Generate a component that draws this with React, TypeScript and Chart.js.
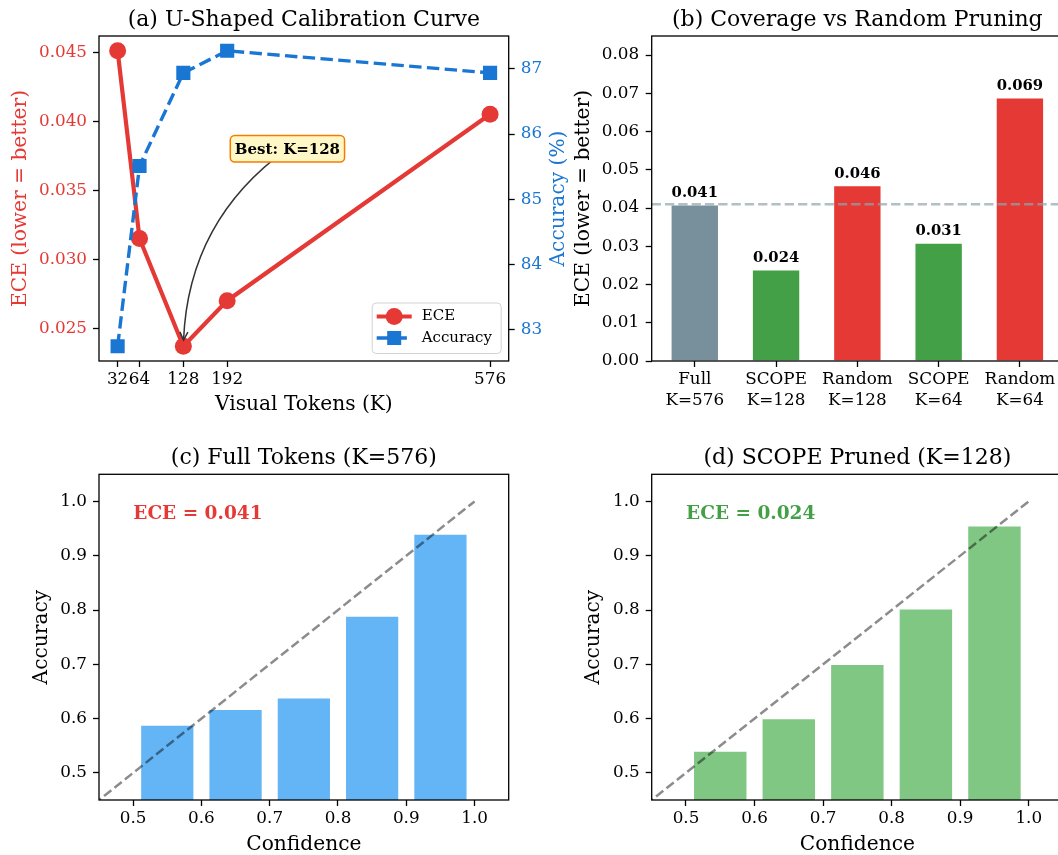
import { useEffect, useRef } from 'react';
import { Chart, registerables } from 'chart.js';

Chart.register(...registerables);

const FONT = "'DejaVu Serif', serif";
Chart.defaults.font.family = FONT;
Chart.defaults.color = '#000';

// ---------------- data ----------------
// (a) U-shaped calibration curve
const tokens = [32, 64, 128, 192, 576];
const eceByTokens = [0.0451, 0.0315, 0.0237, 0.027, 0.0405];
const accByTokens = [82.74, 85.51, 86.94, 87.28, 86.94];
const eceTicks = [0.025, 0.03, 0.035, 0.04, 0.045];
const accTicks = [83, 84, 85, 86, 87];
const bestK = 128;
const bestLabel = 'Best: K=128';
const bestTextX = 280;
const bestTextY = 0.038;

// (b) coverage vs random pruning
const methodLabels = [
  ['Full', 'K=576'],
  ['SCOPE', 'K=128'],
  ['Random', 'K=128'],
  ['SCOPE', 'K=64'],
  ['Random', 'K=64'],
];
const methodEce = [0.041, 0.024, 0.046, 0.031, 0.069];
const methodColors = ['#78909C', '#43A047', '#E53935', '#43A047', '#E53935'];
const fullRef = 0.041;
const barYTicks = [0, 0.01, 0.02, 0.03, 0.04, 0.05, 0.06, 0.07, 0.08];
const barYMax = 0.085;

// (c), (d) reliability diagrams
const binCenters = [0.55, 0.65, 0.75, 0.85, 0.95];
const accFull = [0.589, 0.618, 0.639, 0.79, 0.941];
const accScope = [0.541, 0.601, 0.701, 0.803, 0.956];
const relTicks = [0.5, 0.6, 0.7, 0.8, 0.9, 1.0];
const eceFull = 0.041;
const eceScope = 0.024;

// ---------------- style ----------------
const TICK = 16.8;
const LABEL = 20.2;
const TITLE = 22;
const SMALL = 15;
const RED = '#E53935';
const BLUE = '#1976D2';
const GREEN = '#43A047';

function ext(v: number[]) {
  const lo = Math.min(...v);
  const hi = Math.max(...v);
  const m = (hi - lo) * 0.05;
  return [lo - m, hi + m];
}

const tickGrid = {
  drawOnChartArea: false,
  drawTicks: true,
  tickLength: 6,
  tickColor: '#000',
  tickWidth: 1.3,
  offset: false,
};

const fixTicks = (vals: number[]) => (s: any) => {
  s.ticks = vals.map((v) => ({ value: v }));
};
const fitW = (w: number) => (s: any) => {
  s.width = w;
};
const fitH = (h: number) => (s: any) => {
  s.height = h;
};

function framePlugin(title: string) {
  return {
    id: 'frame',
    afterDraw(chart: any) {
      const { ctx, chartArea: a } = chart;
      ctx.save();
      ctx.strokeStyle = '#000';
      ctx.lineWidth = 1.3;
      ctx.strokeRect(a.left, a.top, a.right - a.left, a.bottom - a.top);
      ctx.fillStyle = '#000';
      ctx.font = `${TITLE}px ${FONT}`;
      ctx.textAlign = 'center';
      ctx.textBaseline = 'alphabetic';
      ctx.fillText(title, (a.left + a.right) / 2, a.top - 10.5);
      ctx.restore();
    },
  };
}

// ---------------- panel (a) ----------------
const rightTitleA = {
  id: 'rightTitleA',
  afterDraw(chart: any) {
    const { ctx, chartArea: a } = chart;
    ctx.save();
    ctx.translate(558.7, (a.top + a.bottom) / 2);
    ctx.rotate(-Math.PI / 2);
    ctx.fillStyle = BLUE;
    ctx.font = `${LABEL}px ${FONT}`;
    ctx.textAlign = 'center';
    ctx.textBaseline = 'middle';
    ctx.fillText('Accuracy (%)', 0, 0);
    ctx.restore();
  },
};

const legendA = {
  id: 'legendA',
  afterDraw(chart: any) {
    const { ctx, chartArea: a } = chart;
    const w = 129;
    const h = 50.5;
    const x0 = a.right - 7.5 - w;
    const y0 = a.bottom - 7.5 - h;
    ctx.save();
    ctx.beginPath();
    ctx.roundRect(x0, y0, w, h, 4);
    ctx.fillStyle = 'rgba(255,255,255,0.8)';
    ctx.fill();
    ctx.strokeStyle = '#d3d3d3';
    ctx.lineWidth = 1;
    ctx.stroke();
    const hx0 = x0 + 4.5;
    const hx1 = x0 + 39.5;
    const hm = (hx0 + hx1) / 2;
    const tx = x0 + 49.5;
    const r1 = y0 + 13.5;
    const r2 = y0 + 35;
    const ds = chart.data.datasets;
    // ECE entry
    ctx.strokeStyle = RED;
    ctx.lineWidth = 4.2;
    ctx.beginPath();
    ctx.moveTo(hx0, r1);
    ctx.lineTo(hx1, r1);
    ctx.stroke();
    ctx.fillStyle = RED;
    ctx.beginPath();
    ctx.arc(hm, r1, 8.5, 0, Math.PI * 2);
    ctx.fill();
    // Accuracy entry
    ctx.strokeStyle = BLUE;
    ctx.lineWidth = 3.4;
    ctx.setLineDash([12.4, 5.4]);
    ctx.beginPath();
    ctx.moveTo(hx0, r2);
    ctx.lineTo(hx1, r2);
    ctx.stroke();
    ctx.setLineDash([]);
    ctx.fillStyle = BLUE;
    ctx.fillRect(hm - 7, r2 - 7, 14, 14);
    ctx.fillStyle = '#000';
    ctx.font = `${SMALL}px ${FONT}`;
    ctx.textAlign = 'left';
    ctx.textBaseline = 'middle';
    ctx.fillText(ds[0].label, tx, r1);
    ctx.fillText(ds[1].label, tx, r2);
    ctx.restore();
  },
};

const annotA = {
  id: 'annotA',
  afterDraw(chart: any) {
    const { ctx } = chart;
    const xs = chart.scales.x;
    const ys = chart.scales.y;
    const p0x = xs.getPixelForValue(bestTextX);
    const p0y = ys.getPixelForValue(bestTextY);
    const p2x = xs.getPixelForValue(bestK);
    const p2y = ys.getPixelForValue(eceByTokens[tokens.indexOf(bestK)]);
    const rad = 0.25;
    const mx = (p0x + p2x) / 2;
    const my = (p0y + p2y) / 2;
    const dx = p2x - p0x;
    const dyDisp = -(p2y - p0y);
    const cx = mx + rad * dyDisp;
    const cy = my + rad * dx;
    const t = 0.975;
    const q1x = p0x + t * (cx - p0x);
    const q1y = p0y + t * (cy - p0y);
    const bx = (1 - t) * (1 - t) * p0x + 2 * t * (1 - t) * cx + t * t * p2x;
    const by = (1 - t) * (1 - t) * p0y + 2 * t * (1 - t) * cy + t * t * p2y;
    const tgx = 2 * (1 - t) * (cx - p0x) + 2 * t * (p2x - cx);
    const tgy = 2 * (1 - t) * (cy - p0y) + 2 * t * (p2y - cy);
    const tl = Math.hypot(tgx, tgy);
    const ux = tgx / tl;
    const uy = tgy / tl;
    ctx.save();
    ctx.strokeStyle = '#333';
    ctx.lineWidth = 1.5;
    ctx.beginPath();
    ctx.moveTo(p0x, p0y);
    ctx.quadraticCurveTo(q1x, q1y, bx, by);
    ctx.stroke();
    const hl = 8;
    const hw = 4;
    ctx.beginPath();
    ctx.moveTo(bx - ux * hl - uy * hw, by - uy * hl + ux * hw);
    ctx.lineTo(bx, by);
    ctx.lineTo(bx - ux * hl + uy * hw, by - uy * hl - ux * hw);
    ctx.stroke();
    // box
    ctx.font = `bold ${SMALL}px ${FONT}`;
    const tw = ctx.measureText(bestLabel).width;
    const bw = tw + 9;
    const bh = 26.5;
    ctx.beginPath();
    ctx.roundRect(p0x - bw / 2, p0y - bh / 2, bw, bh, 4.5);
    ctx.fillStyle = '#FFF8C6';
    ctx.fill();
    ctx.strokeStyle = '#F57C00';
    ctx.lineWidth = 1.5;
    ctx.stroke();
    ctx.fillStyle = '#000';
    ctx.textAlign = 'center';
    ctx.textBaseline = 'middle';
    ctx.fillText(bestLabel, p0x, p0y + 1);
    ctx.restore();
  },
};

function configA(): any {
  const [xMin, xMax] = ext(tokens);
  const [eMin, eMax] = ext(eceByTokens);
  const [aMin, aMax] = ext(accByTokens);
  return {
    type: 'line',
    data: {
      datasets: [
        {
          label: 'ECE',
          data: tokens.map((x, i) => ({ x, y: eceByTokens[i] })),
          yAxisID: 'y',
          borderColor: RED,
          backgroundColor: RED,
          borderWidth: 4.2,
          pointStyle: 'circle',
          pointRadius: 8.5,
          pointBorderWidth: 0,
          order: 2,
        },
        {
          label: 'Accuracy',
          data: tokens.map((x, i) => ({ x, y: accByTokens[i] })),
          yAxisID: 'y1',
          borderColor: BLUE,
          backgroundColor: BLUE,
          borderWidth: 3.4,
          borderDash: [12.4, 5.4],
          pointStyle: 'rect',
          pointRadius: 10,
          pointBorderWidth: 0,
          order: 1,
        },
      ],
    },
    options: {
      animation: false,
      responsive: false,
      events: [],
      layout: { padding: { top: 36, left: 0, right: 0, bottom: 0 } },
      plugins: { legend: { display: false }, tooltip: { enabled: false } },
      scales: {
        x: {
          type: 'linear',
          min: xMin,
          max: xMax,
          afterBuildTicks: fixTicks(tokens),
          afterFit: fitH(59),
          ticks: {
            autoSkip: false,
            maxRotation: 0,
            minRotation: 0,
            padding: 3,
            font: { size: TICK },
            color: '#000',
            callback: (v: number) => String(v),
          },
          grid: tickGrid,
          border: { display: false },
          title: {
            display: true,
            text: 'Visual Tokens (K)',
            font: { size: LABEL },
            color: '#000',
            padding: { top: 0, bottom: 3 },
          },
        },
        y: {
          type: 'linear',
          position: 'left',
          min: eMin,
          max: eMax,
          afterBuildTicks: fixTicks(eceTicks),
          afterFit: fitW(99),
          ticks: {
            padding: 6,
            font: { size: TICK },
            color: RED,
            callback: (v: number) => v.toFixed(3),
          },
          grid: tickGrid,
          border: { display: false },
          title: {
            display: true,
            text: 'ECE (lower = better)',
            font: { size: LABEL },
            color: RED,
            padding: { top: 8.2, bottom: 0 },
          },
        },
        y1: {
          type: 'linear',
          position: 'right',
          min: aMin,
          max: aMax,
          afterBuildTicks: fixTicks(accTicks),
          afterFit: fitW(575 - 508.7),
          ticks: {
            padding: 6,
            font: { size: TICK },
            color: BLUE,
            callback: (v: number) => String(v),
          },
          grid: tickGrid,
          border: { display: false },
        },
      },
    },
    plugins: [framePlugin('(a) U-Shaped Calibration Curve'), rightTitleA, legendA, annotA],
  };
}

// ---------------- panel (b) ----------------
const barLabelsB = {
  id: 'barLabelsB',
  afterDatasetsDraw(chart: any) {
    const { ctx, chartArea: a } = chart;
    const ys = chart.scales.y;
    ctx.save();
    // reference line
    const ry = ys.getPixelForValue(fullRef);
    ctx.strokeStyle = 'rgba(144,164,174,0.7)';
    ctx.lineWidth = 2.5;
    ctx.setLineDash([9.3, 4]);
    ctx.beginPath();
    ctx.moveTo(a.left, ry);
    ctx.lineTo(a.right, ry);
    ctx.stroke();
    ctx.setLineDash([]);
    const meta = chart.getDatasetMeta(0);
    ctx.fillStyle = '#000';
    ctx.font = `bold 14.8px ${FONT}`;
    ctx.textAlign = 'center';
    ctx.textBaseline = 'alphabetic';
    meta.data.forEach((el: any, i: number) => {
      ctx.fillText(methodEce[i].toFixed(3), el.x, el.y - 7.5);
    });
    ctx.restore();
  },
};

function configB(): any {
  const bw = 0.6;
  const n = methodEce.length;
  const xMin = -bw / 2 - 0.05 * (n - 1 + bw);
  const xMax = n - 1 + bw / 2 + 0.05 * (n - 1 + bw);
  return {
    type: 'bar',
    data: {
      datasets: [
        {
          label: 'ECE',
          data: methodEce.map((y, i) => ({ x: i, y })),
          backgroundColor: methodColors,
          borderColor: '#ffffff',
          borderWidth: 1.2,
          barPercentage: bw,
          categoryPercentage: 1,
        },
      ],
    },
    options: {
      animation: false,
      responsive: false,
      events: [],
      layout: { padding: { top: 36, left: 0, right: 2, bottom: 0 } },
      plugins: { legend: { display: false }, tooltip: { enabled: false } },
      scales: {
        x: {
          type: 'linear',
          offset: false,
          min: xMin,
          max: xMax,
          afterBuildTicks: fixTicks(methodEce.map((_, i) => i)),
          afterFit: fitH(59),
          ticks: {
            autoSkip: false,
            maxRotation: 0,
            minRotation: 0,
            padding: 3,
            font: { size: TICK },
            color: '#000',
            callback: (v: number) => methodLabels[Math.round(v)],
          },
          grid: tickGrid,
          border: { display: false },
        },
        y: {
          type: 'linear',
          min: 0,
          max: barYMax,
          afterBuildTicks: fixTicks(barYTicks),
          afterFit: fitW(91.7),
          ticks: {
            padding: 6.5,
            font: { size: TICK },
            color: '#000',
            callback: (v: number) => v.toFixed(2),
          },
          grid: tickGrid,
          border: { display: false },
          title: {
            display: true,
            text: 'ECE (lower = better)',
            font: { size: LABEL },
            color: '#000',
            padding: { top: 11.9, bottom: 0 },
          },
        },
      },
    },
    plugins: [barLabelsB, framePlugin('(b) Coverage vs Random Pruning')],
  };
}

// ---------------- panels (c), (d) ----------------
function eceTextPlugin(text: string, color: string) {
  return {
    id: 'eceText',
    afterDraw(chart: any) {
      const { ctx, chartArea: a } = chart;
      ctx.save();
      ctx.fillStyle = color;
      ctx.font = `bold 18.5px ${FONT}`;
      ctx.textAlign = 'left';
      ctx.textBaseline = 'alphabetic';
      ctx.fillText(text, a.left + 0.08 * (a.right - a.left) + 1.5, a.top + 44.4);
      ctx.restore();
    },
  };
}

function configRel(
  acc: number[],
  barColor: string,
  ece: number,
  eceColor: string,
  title: string,
  yw: number,
  ytp: number,
  rightPad: number
): any {
  return {
    type: 'bar',
    data: {
      datasets: [
        {
          type: 'line',
          label: 'Perfect calibration',
          data: [
            { x: 0, y: 0 },
            { x: 1, y: 1 },
          ],
          borderColor: 'rgba(0,0,0,0.45)',
          borderWidth: 2.5,
          borderDash: [9.3, 4],
          pointRadius: 0,
          clip: 0,
          order: 0,
        },
        {
          type: 'bar',
          label: 'Accuracy',
          data: binCenters.map((x, i) => ({ x, y: acc[i] })),
          backgroundColor: barColor,
          borderColor: '#ffffff',
          borderWidth: 1.2,
          barPercentage: 0.8,
          categoryPercentage: 1,
          order: 1,
        },
      ],
    },
    options: {
      animation: false,
      responsive: false,
      events: [],
      layout: { padding: { top: 54.3, left: 0, right: rightPad, bottom: 0 } },
      plugins: { legend: { display: false }, tooltip: { enabled: false } },
      scales: {
        x: {
          type: 'linear',
          offset: false,
          min: 0.45,
          max: 1.05,
          afterBuildTicks: fixTicks(relTicks),
          afterFit: fitH(57),
          ticks: {
            autoSkip: false,
            maxRotation: 0,
            minRotation: 0,
            padding: 3,
            font: { size: TICK },
            color: '#000',
            callback: (v: number) => v.toFixed(1),
          },
          grid: tickGrid,
          border: { display: false },
          title: {
            display: true,
            text: 'Confidence',
            font: { size: LABEL },
            color: '#000',
            padding: { top: 0, bottom: 0 },
          },
        },
        y: {
          type: 'linear',
          min: 0.45,
          max: 1.05,
          afterBuildTicks: fixTicks(relTicks),
          afterFit: fitW(yw),
          ticks: {
            padding: 6,
            font: { size: TICK },
            color: '#000',
            callback: (v: number) => v.toFixed(1),
          },
          grid: tickGrid,
          border: { display: false },
          title: {
            display: true,
            text: 'Accuracy',
            font: { size: LABEL },
            color: '#000',
            padding: { top: ytp, bottom: 0 },
          },
        },
      },
    },
    plugins: [framePlugin(title), eceTextPlugin(`ECE = ${ece.toFixed(3)}`, eceColor)],
  };
}

function Panel(props: { left: number; top: number; width: number; height: number; make: () => any }) {
  const ref = useRef<HTMLCanvasElement>(null);
  useEffect(() => {
    const chart = new Chart(ref.current as HTMLCanvasElement, props.make());
    return () => chart.destroy();
  }, []);
  return (
    <canvas
      ref={ref}
      width={props.width}
      height={props.height}
      style={{
        position: 'absolute',
        left: props.left,
        top: props.top,
        width: props.width,
        height: props.height,
      }}
    />
  );
}

export default function App() {
  return (
    <div
      style={{
        position: 'absolute',
        left: 0,
        top: 0,
        width: 1058,
        height: 855,
        overflow: 'hidden',
        background: '#ffffff',
      }}
    >
      <Panel left={0} top={0} width={575} height={420} make={configA} />
      <Panel left={560} top={0} width={505} height={420} make={configB} />
      <Panel
        left={0}
        top={420}
        width={530}
        height={437}
        make={() => configRel(accFull, '#64B5F6', eceFull, RED, '(c) Full Tokens (K=576)', 99, 29.3, 530 - 508.7)}
      />
      <Panel
        left={560}
        top={420}
        width={505}
        height={437}
        make={() => configRel(accScope, '#81C784', eceScope, GREEN, '(d) SCOPE Pruned (K=128)', 91.7, 21.8, 2)}
      />
    </div>
  );
}
